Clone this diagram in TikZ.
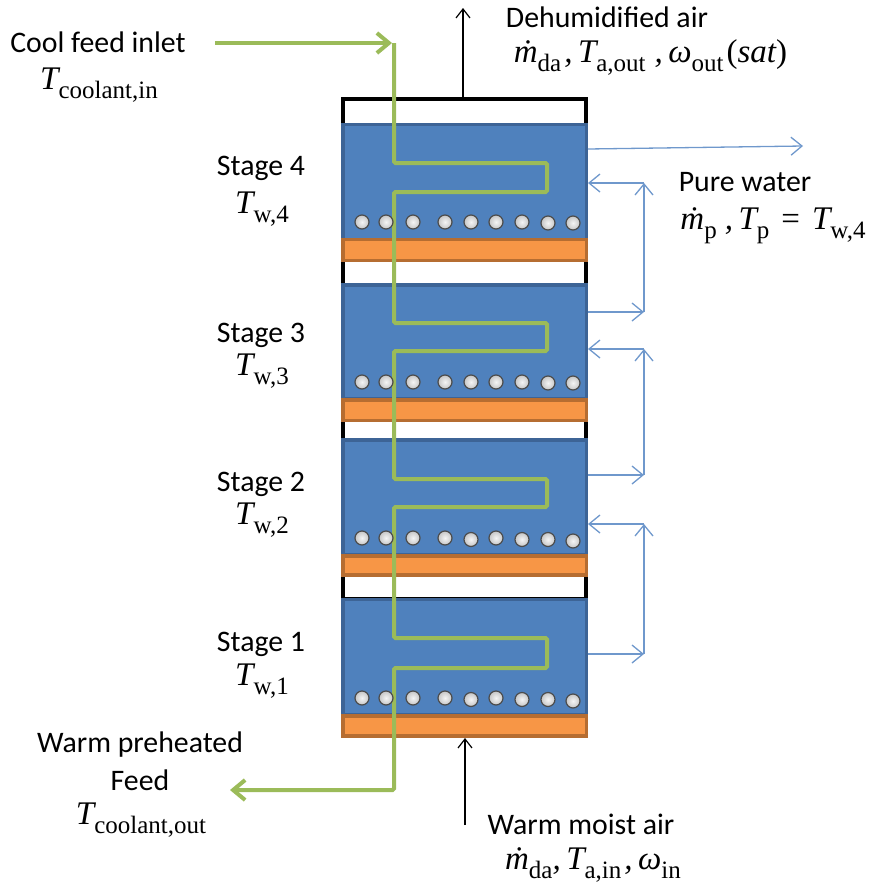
\documentclass[tikz,border=0pt]{standalone}
\usepackage{fontspec}
\setmainfont{Carlito}
\newfontfamily\mathserif{Liberation Serif}
\usetikzlibrary{arrows.meta}
\definecolor{stageblue}{HTML}{4F81BD}
\definecolor{stageedge}{HTML}{3D6496}
\definecolor{heatorange}{HTML}{F79646}
\definecolor{heatedge}{HTML}{B66D31}
\definecolor{coolgreen}{HTML}{9BBB59}
\definecolor{airblue}{HTML}{6F98CC}
\newcommand{\vr}[1]{{\mathserif\fontsize{33}{35}\selectfont\itshape #1}}
\newcommand{\up}[1]{{\mathserif\fontsize{33}{35}\selectfont #1}}
\newcommand{\lowsub}[1]{\raisebox{-0.30em}{\mathserif\fontsize{25}{27}\selectfont #1}}
\newcommand{\mdotda}[1]{\vr{\.m}\lowsub{#1}}
\tikzset{
  x=1pt,y=-1pt,
  label/.style={font=\fontsize{29.8}{32}\selectfont,text=black,inner sep=0pt,outer sep=0pt,align=center},
  housing/.style={draw=black,line width=4pt,fill=white,minimum width=243,inner sep=0pt,outer sep=0pt},
  waterbox/.style={draw=stageedge,fill=stageblue,line width=3.5pt,minimum width=243.5,inner sep=0pt,outer sep=0pt},
  heatbox/.style={draw=heatedge,fill=heatorange,line width=3.5pt,minimum width=243.5,inner sep=0pt,outer sep=0pt},
  bubble/.style={circle,minimum size=14pt,inner sep=0pt,draw=black!70,line width=1.2pt,inner color=gray!8,outer color=gray!45},
  coolant/.style={draw=coolgreen,line width=4pt,rounded corners=1.5pt,-{Straight Barb[length=12pt,width=20pt,line width=4pt]}},
  airline/.style={draw=black,line width=1.2pt,-{Straight Barb[length=9pt,width=14pt,line width=1.2pt]}},
  waterline/.style={draw=airblue,line width=1.3pt,-{Straight Barb[length=11pt,width=18pt,line width=1.3pt]}},
}
\begin{document}
\begin{tikzpicture}
\useasboundingbox (0,0) rectangle (873,884);
% housing
\node[housing,minimum height=500] (house) at (464.5,349) {};
% stages
\node[waterbox,minimum height=115] (s4) at (464.5,182) {};
\node[heatbox,minimum height=21] (h4) at (464.5,250) {};
\node[waterbox,minimum height=114] (s3) at (464.5,342) {};
\node[heatbox,minimum height=20.5] (h3) at (464.5,410) {};
\node[waterbox,minimum height=115] (s2) at (464.5,497.5) {};
\node[heatbox,minimum height=19] (h2) at (464.5,565.5) {};
\node[waterbox,minimum height=115] (s1) at (464.5,657) {};
\node[heatbox,minimum height=20] (h1) at (464.5,726) {};
% named ends
\coordinate (c4a) at (644,183); \coordinate (c4b) at (644,312);
\coordinate (c3a) at (644,349); \coordinate (c3b) at (644,475);
\coordinate (c2a) at (644,524); \coordinate (c2b) at (644,654);
\coordinate (w4in) at (588,183); \coordinate (w4out) at (588,312);
\coordinate (w3in) at (588,349); \coordinate (w3out) at (588,475);
\coordinate (w2in) at (588,524); \coordinate (w2out) at (588,654);
\coordinate (pureS) at (588,149); \coordinate (pureE) at (803,146);
\coordinate (airTopS) at (463,97); \coordinate (airTopE) at (463,8);
\coordinate (airBotS) at (465,825); \coordinate (airBotE) at (465,738);
\coordinate (feedS) at (215,43); \coordinate (feedE) at (392,43);
\coordinate (outE) at (230,790);
% water and air connectors
\draw[waterline] (pureS) -- (pureE);
\draw[waterline] (c4a) -- (w4in);
\draw[waterline] (c4b) -- (c4a);
\draw[waterline] (w4out) -- (c4b);
\draw[waterline] (c3a) -- (w3in);
\draw[waterline] (c3b) -- (c3a);
\draw[waterline] (w3out) -- (c3b);
\draw[waterline] (c2a) -- (w2in);
\draw[waterline] (c2b) -- (c2a);
\draw[waterline] (w2out) -- (c2b);
\draw[airline] (airTopS) -- (airTopE);
\draw[airline] (airBotS) -- (airBotE);
% coolant
\draw[coolant] (feedS) -- (feedE);
\draw[coolant] (394,43) -- (394,163) -- (547,163) -- (547,192) -- (394,192)
  -- (394,323) -- (547,323) -- (547,351) -- (394,351)
  -- (394,479) -- (547,479) -- (547,507) -- (394,507)
  -- (394,638) -- (547,638) -- (547,668) -- (394,668)
  -- (394,790) -- (outE);
% bubbles
\foreach \n/\bx/\by in {
 a/362/222,b/386/222,c/413/222,d/445/222,e/471/222,f/496/222,g/522/222,h/548/223,i/573/223}
 \node[bubble] (b4\n) at (\bx,\by) {};
\foreach \n/\bx/\by in {
 a/362/382,b/386/382,c/413/382,d/445/382,e/471/382,f/496/382,g/522/382,h/548/383,i/573/383}
 \node[bubble] (b3\n) at (\bx,\by) {};
\foreach \n/\bx/\by in {
 a/362/538,b/386/538,c/413/538,d/445/538,e/471/539.5,f/496/538,g/522/539.5,h/548/539.5,i/573/541}
 \node[bubble] (b2\n) at (\bx,\by) {};
\foreach \n/\bx/\by in {
 a/362/698,b/386/698,c/413/698,d/445/698,e/471/699.5,f/496/698,g/522/699.5,h/548/699.5,i/573/701}
 \node[bubble] (b1\n) at (\bx,\by) {};
% labels
\node[label] (t1) at (98,42) {Cool feed inlet};
\node[label] (t2) at (99,85) {\vr{T}\lowsub{coolant,in}};
\node[label] (t3) at (261,168) {Stage 4};
\node[label] (t4) at (262,209) {\vr{T}\lowsub{w,4}};
\node[label] (t5) at (261,335) {Stage 3};
\node[label] (t6) at (262,371) {\vr{T}\lowsub{w,3}};
\node[label] (t7) at (261,484) {Stage 2};
\node[label] (t8) at (262,520) {\vr{T}\lowsub{w,2}};
\node[label] (t9) at (261,644) {Stage 1};
\node[label] (t10) at (262,681) {\vr{T}\lowsub{w,1}};
\node[label] (t11) at (140,745) {Warm preheated};
\node[label] (t12) at (140,780) {Feed};
\node[label] (t13) at (141,820) {\vr{T}\lowsub{coolant,out}};
\node[label] (t14) at (581,824) {Warm moist air};
\node[label] (t15) at (593,865) {\mdotda{da}\vr{,\,T}\lowsub{a,in}\hspace{3pt}\vr{,\,ω}\lowsub{in}};
\node[label] (t16) at (607,17) {Dehumidified air};
\node[label] (t17) at (650.5,57) {\mdotda{da}\hspace{3pt}\vr{,\,T}\lowsub{a,out}\hspace{9pt}\vr{,\,ω}\lowsub{out}\hspace{3pt}\up{(}\vr{sat}\up{)}};
\node[label] (t18) at (745,182) {Pure water};
\node[label] (t19) at (773,226) {\mdotda{p}\hspace{8pt}\vr{,\,T}\lowsub{p}\hspace{12pt}\up{=}\hspace{12pt}\vr{T}\lowsub{w,4}};
\end{tikzpicture}
\end{document}
